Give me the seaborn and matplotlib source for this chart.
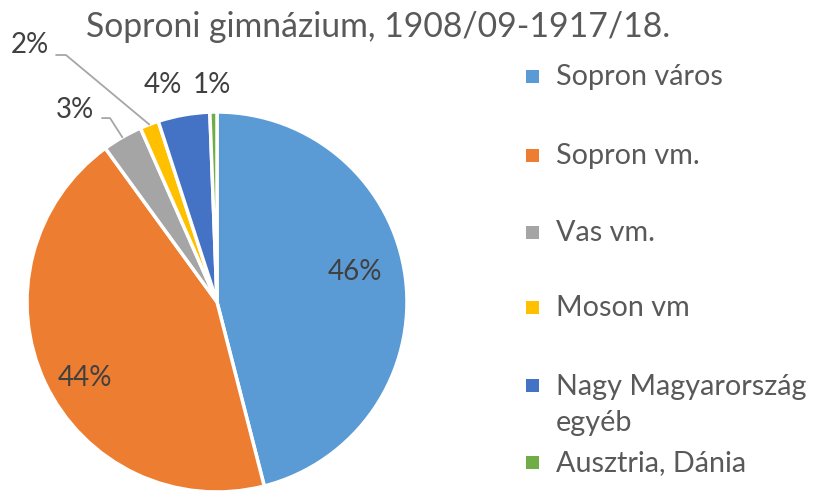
import matplotlib
matplotlib.use("Agg")
import matplotlib.pyplot as plt
import seaborn as sns
import numpy as np
from matplotlib.patches import Rectangle

categories = ["Sopron város", "Sopron vm.", "Vas vm.", "Moson vm",
              "Nagy Magyarország\negyéb", "Ausztria, Dánia"]
values = [46.0, 44.0, 3.4, 1.6, 4.4, 0.6]
pct_labels = ["46%", "44%", "3%", "2%", "4%", "1%"]
colors = ["#5B9BD5", "#ED7D31", "#A5A5A5", "#FFC000", "#4472C4", "#70AD47"]
title = "Soproni gimnázium, 1908/09-1917/18."

sns.set_theme(style="white")
plt.rcParams["font.family"] = ["Lato", "DejaVu Sans"]
txt_color = "#595959"

W, H = 815, 493
fig = plt.figure(figsize=(W / 100, H / 100), dpi=100)
cx, cy, R = 217, 302, 190
half = 200
ax = fig.add_axes([(cx - half) / W, (H - cy - half) / H, 2 * half / W, 2 * half / H])

wedges, _ = ax.pie(values, colors=colors, startangle=90, counterclock=False,
                   radius=1.0, wedgeprops=dict(edgecolor="white", linewidth=2.5))
ax.set_xlim(-half / R, half / R)
ax.set_ylim(-half / R, half / R)
ax.set_aspect("equal")
ax.axis("off")

# label positions (data coords, radius = 1)
label_pos = [(0.726, 0.158), (-0.695, -0.40), (-0.747, 1.01),
             (-0.984, 1.353), (-0.284, 1.142), (-0.026, 1.142)]
for (x, y), t in zip(label_pos, pct_labels):
    ax.text(x, y, t, ha="center", va="center", fontsize=20, color="#404040",
            clip_on=False)

# leader lines for the small slices
elbows = {2: [(-0.605, 0.968), (-0.563, 0.968)],
          3: [(-0.847, 1.30), (-0.795, 1.30)]}
for i, pts in elbows.items():
    w = wedges[i]
    mid = np.deg2rad((w.theta1 + w.theta2) / 2)
    ex, ey = np.cos(mid), np.sin(mid)
    ax.plot([pts[0][0], pts[1][0], ex], [pts[0][1], pts[1][1], ey],
            color="#A6A6A6", lw=1.3, clip_on=False)

fig.text(378 / W, 1 - 27 / H, title, ha="center", va="center",
         fontsize=24.3, color=txt_color)

legend_y = [76, 155, 232, 307, 385, 462]
s = 13
for cat, col, y in zip(categories, colors, legend_y):
    fig.patches.append(Rectangle(((532 - s / 2) / W, 1 - (y + s / 2) / H), s / W, s / H,
                                 transform=fig.transFigure, facecolor=col,
                                 edgecolor="none"))
    n = cat.count("\n")
    fig.text(556 / W, 1 - (y + 1 + n * 19) / H, cat, ha="left", va="center",
             fontsize=20.7, color=txt_color, linespacing=1.45)

fig.savefig("out.png", dpi=100, facecolor="white")
